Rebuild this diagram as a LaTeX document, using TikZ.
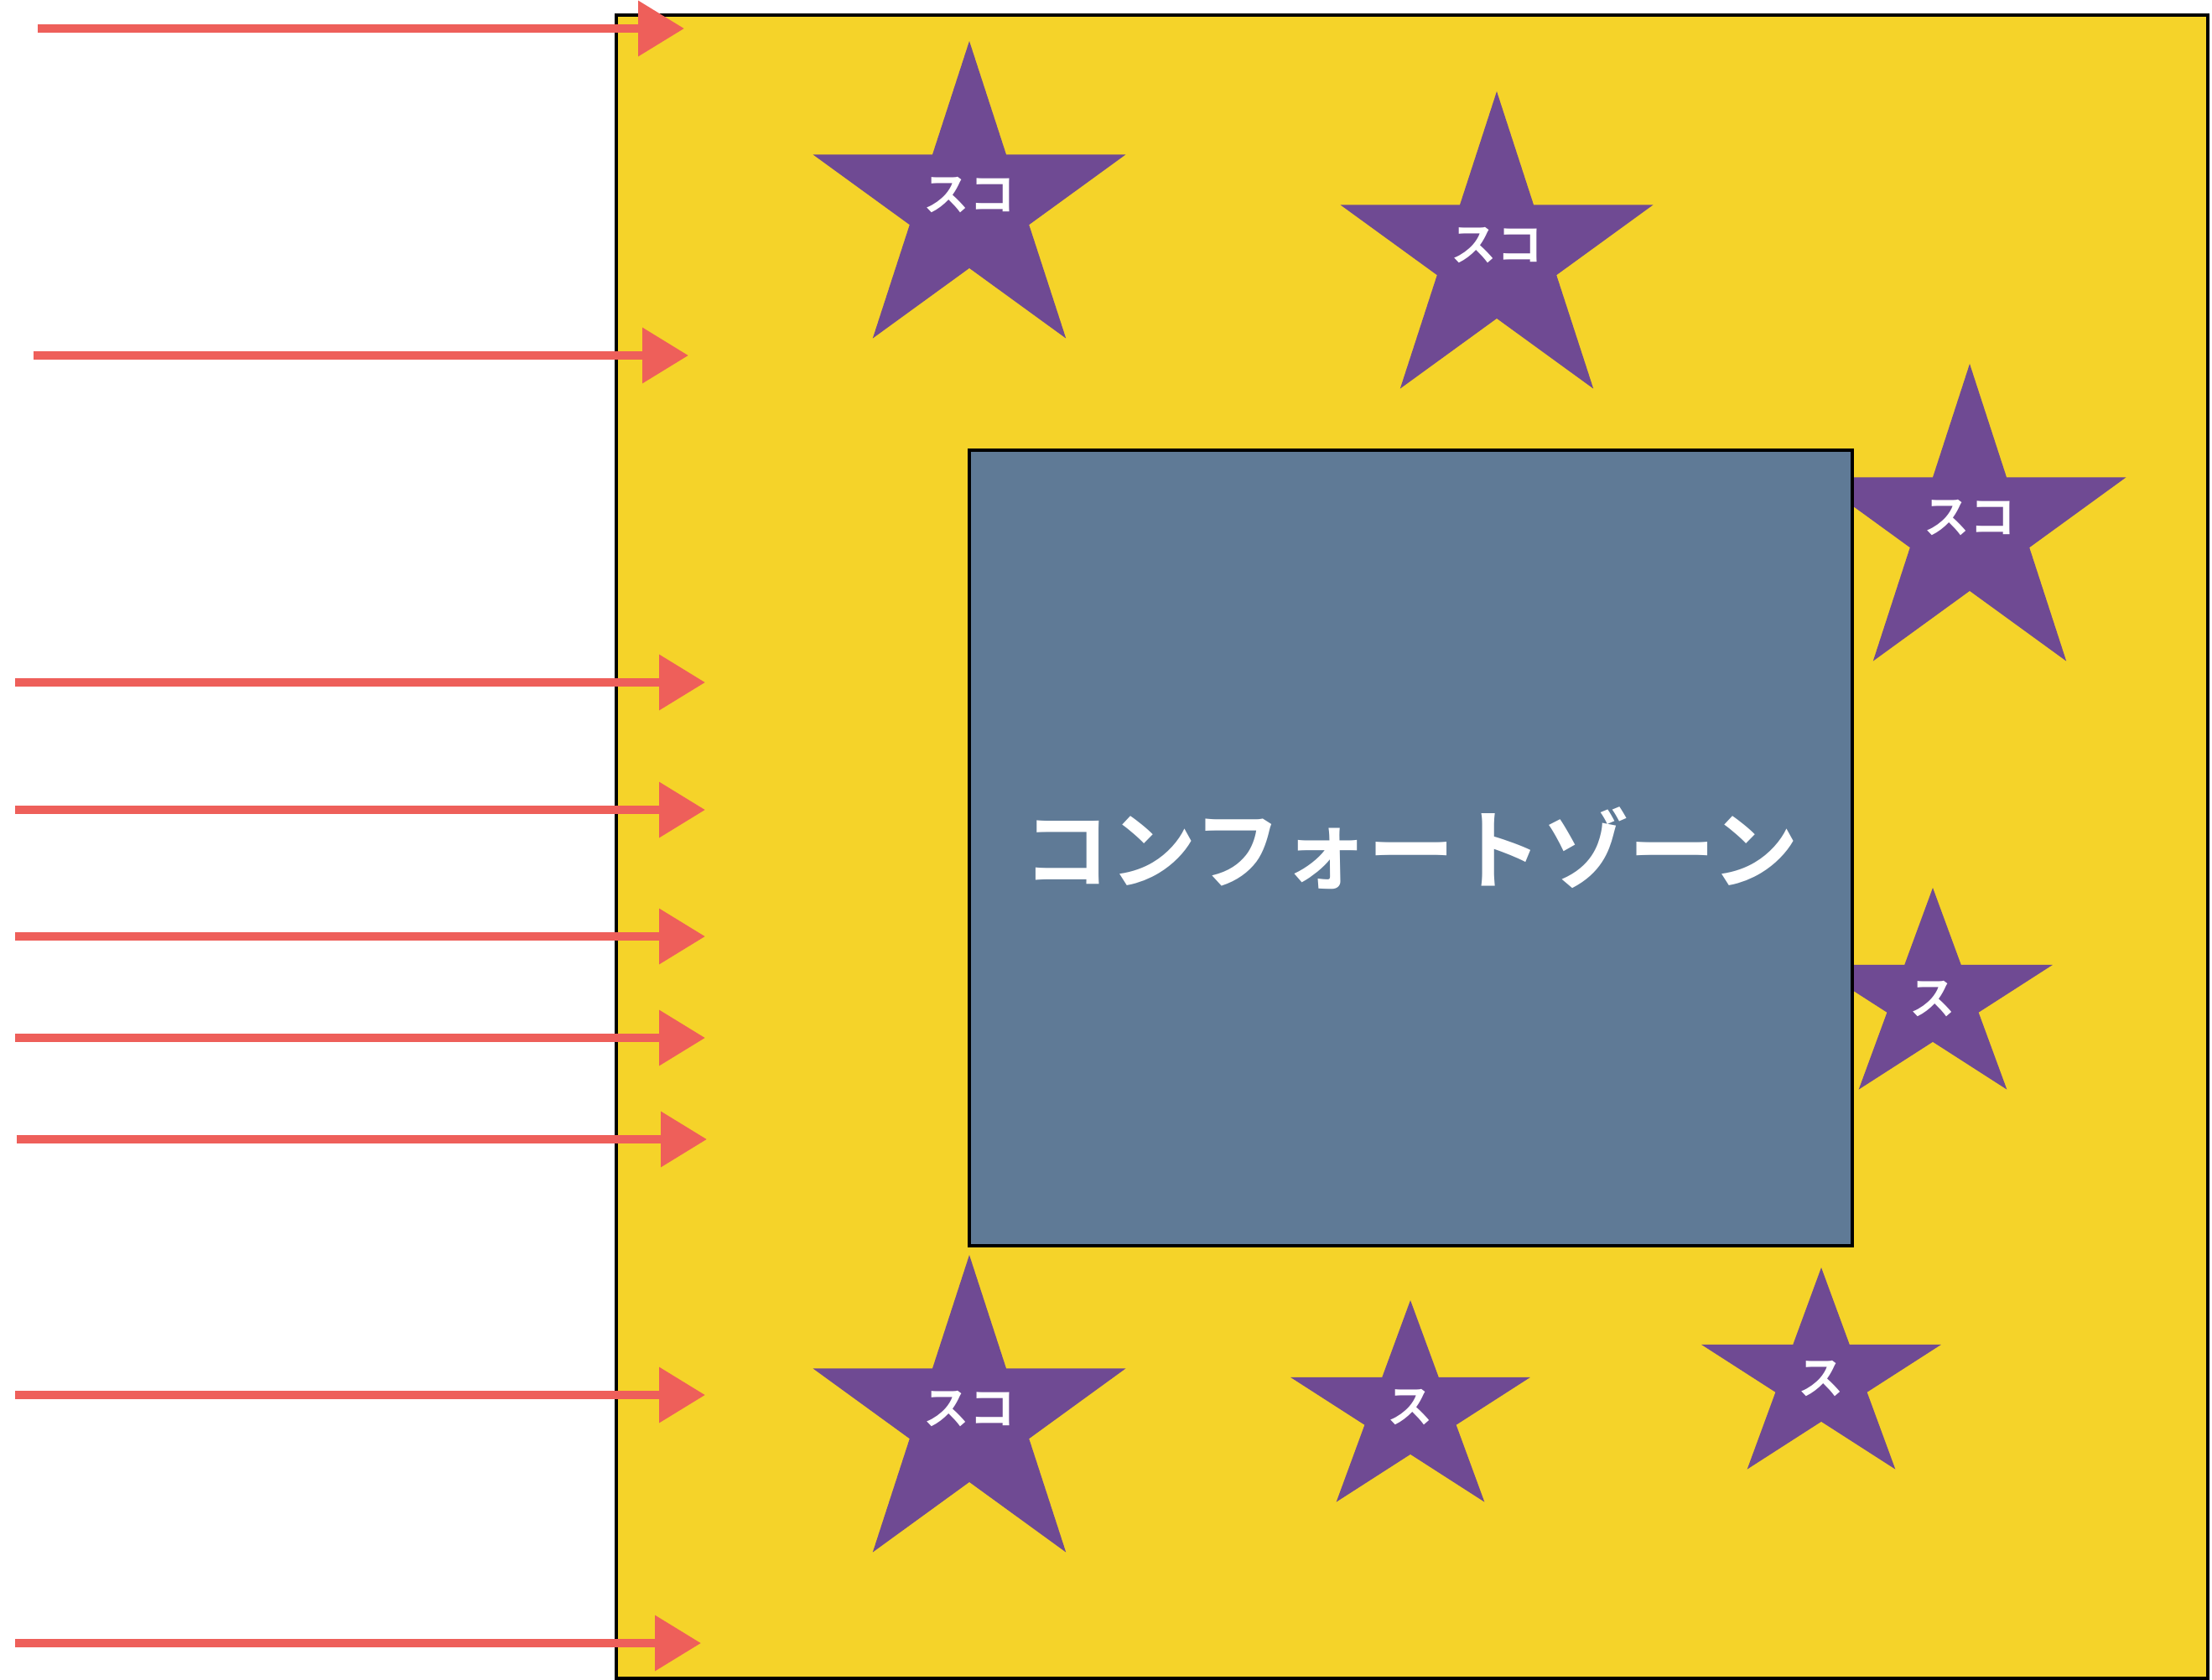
\documentclass[tikz,border=0pt]{standalone}
\usepackage{fontspec}
\usepackage{tikz}
\usetikzlibrary{arrows.meta, shapes.geometric}
\newfontfamily\jpsans{Noto Sans CJK JP}[BoldFont={Noto Sans CJK JP Bold}]
\definecolor{zoneyellow}{HTML}{F5D329}
\definecolor{zoneblue}{HTML}{5F7A96}
\definecolor{starpurple}{HTML}{6F4A93}
\definecolor{chalkred}{HTML}{EE5F5A}

\begin{document}
\begin{tikzpicture}[
    push/.style={chalkred, line width=3pt, -{Triangle[length=0.55cm, width=0.64cm]}},
    zone/.style={draw, line width=1.2pt, anchor=north west, inner sep=0pt, outer sep=0pt},
    bigstar/.style={star, star points=5, star point ratio=2.618, fill=starpurple, inner sep=0pt, minimum size=3.92cm},
    smallstar/.style={bigstar, minimum size=2.66cm, xscale=1.13},
    starlabel/.style={text=white, font=\jpsans\bfseries\fontsize{15.5}{18}\selectfont},
]
    \useasboundingbox (0,0) rectangle (26.38,-20.03);

    % Stretch zone
    \node[zone, fill=zoneyellow, minimum width=18.98cm, minimum height=19.84cm] (stretch) at (7.35,-0.18) {};

    % Stars, partly hidden behind the comfort zone
    \node[bigstar] (s1) at (11.56,-2.45) {};
    \node[bigstar] (s2) at (17.85,-3.05) {};
    \node[bigstar] (s3) at (23.49,-6.30) {};
    \node[smallstar] (s4) at (23.05,-11.92) {};
    \node[bigstar] (s5) at (11.56,-16.93) {};
    \node[smallstar] (s6) at (16.82,-16.84) {};
    \node[smallstar] (s7) at (21.72,-16.45) {};
    \foreach \s/\t/\dy in {s1/スコ/0.12, s2/スコ/0.12, s3/スコ/0.12, s4/ス/0, s5/スコ/0.12, s6/ス/0.05, s7/ス/0}
        \node[starlabel, yshift=\dy cm] (\s-txt) at (\s) {\t};

    % Comfort zone
    \node[zone, fill=zoneblue, minimum width=10.53cm, minimum height=9.49cm, text=white, font=\jpsans\bfseries\fontsize{29.5}{34}\selectfont] (comfort) at (11.56,-5.37) {コンフォートゾーン};

    % Arrows coming in from the left
    \foreach \y/\xa/\xb [count=\i] in {0.34/0.45/8.16, 4.24/0.40/8.21, 8.14/0.18/8.41, 9.66/0.18/8.41, 11.17/0.18/8.41, 12.38/0.18/8.41, 13.59/0.20/8.43, 16.64/0.18/8.41, 19.60/0.18/8.36} {
        \coordinate (from\i) at (\xa,-\y);
        \coordinate (to\i) at (\xb,-\y);
        \draw[push] (from\i) -- (to\i);
    }
\end{tikzpicture}
\end{document}
